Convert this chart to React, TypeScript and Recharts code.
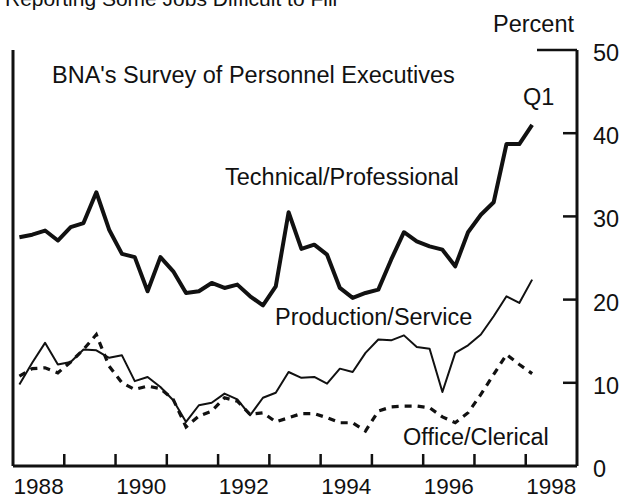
import React from 'react';
import { LineChart, Line, XAxis, YAxis } from 'recharts';

const FONT = "'Liberation Sans', Arial, Helvetica, sans-serif";
const INK = '#111111';

// Quarterly observations, 1988 Q1 through 1998 Q1
const years = [1988, 1989, 1990, 1991, 1992, 1993, 1994, 1995, 1996, 1997, 1998];
const quartersPerYear = ['Q1', 'Q2', 'Q3', 'Q4'];

const technicalProfessional = [
  27.5, 27.8, 28.3, 27.1, 28.7, 29.2, 32.9, 28.4, 25.5, 25.1, 21.0,
  25.1, 23.4, 20.8, 21.0, 22.0, 21.4, 21.8, 20.4, 19.3, 21.6, 30.5,
  26.1, 26.6, 25.4, 21.4, 20.2, 20.8, 21.2, 24.8, 28.1, 27.0, 26.4,
  26.0, 24.0, 28.1, 30.2, 31.7, 38.7, 38.7, 41.0,
];
const productionService = [
  9.8, 12.4, 14.8, 12.2, 12.5, 14.0, 13.9, 13.0, 13.3, 10.2, 10.7,
  9.5, 7.9, 5.3, 7.3, 7.6, 8.7, 8.0, 6.1, 8.2, 8.8, 11.3,
  10.6, 10.7, 9.9, 11.7, 11.3, 13.6, 15.2, 15.1, 15.7, 14.3, 14.1,
  8.9, 13.6, 14.5, 15.8, 18.0, 20.4, 19.6, 22.4,
];
const officeClerical = [
  10.8, 11.7, 11.8, 11.2, 12.5, 14.0, 15.8, 12.0, 10.0, 9.2, 9.6,
  9.3, 8.0, 4.7, 6.0, 6.6, 8.2, 7.8, 6.2, 6.4, 5.3, 5.8,
  6.3, 6.3, 5.8, 5.2, 5.2, 4.2, 6.6, 7.1, 7.2, 7.2, 7.0,
  5.9, 5.2, 6.4, 8.6, 11.0, 13.4, 12.2, 11.1,
];

const yearLabels = ['1988', '1990', '1992', '1994', '1996', '1998'];
const yTicks = [0, 10, 20, 30, 40, 50];

// build quarter categories -> numeric position (mid-quarter)
const quarterKeys: { year: number; q: number }[] = [];
years.forEach((yr) => quartersPerYear.forEach((_, qi) => quarterKeys.push({ year: yr, q: qi })));

const data = technicalProfessional.map((v, i) => ({
  x: quarterKeys[i].year + (quarterKeys[i].q + 0.5) / 4,
  tech: v,
  prod: productionService[i],
  office: officeClerical[i],
}));

const boundaryTicks = years.slice(1);
const labelTicks = yearLabels.map((l) => Number(l) + 0.5);
const xTicks = [...boundaryTicks, ...labelTicks].sort((a, b) => a - b);

const XTick = (props: any) => {
  const { x, y, payload } = props;
  const v = payload.value as number;
  if (Number.isInteger(v)) {
    return <line x1={x} x2={x} y1={y} y2={y - 12} stroke={INK} strokeWidth={2.5} />;
  }
  return (
    <text x={x} y={y + 28} textAnchor="middle" fontFamily={FONT} fontSize={22.5} fill={INK}>
      {String(Math.floor(v))}
    </text>
  );
};

const RightTick = (props: any) => {
  const { x, y, payload } = props;
  const v = payload.value as number;
  const len = v === 50 ? 40 : v === 0 ? 0 : 14;
  return (
    <g>
      {len > 0 && <line x1={x} x2={x - len} y1={y} y2={y} stroke={INK} strokeWidth={2.5} />}
      <text x={x + 16} y={y + 11} fontFamily={FONT} fontSize={23.5} fill={INK}>
        {String(v)}
      </text>
    </g>
  );
};

const LeftTick = (props: any) => {
  const { x, y, payload } = props;
  const v = payload.value as number;
  const len = v === 50 ? 27 : v === 0 ? 0 : 14;
  if (len === 0) return <g />;
  return <line x1={x} x2={x + len} y1={y} y2={y} stroke={INK} strokeWidth={2.5} />;
};

const textStyle = { fontFamily: FONT, fontSize: 23.5, fill: INK } as const;

export default function App() {
  return (
    <div style={{ position: 'absolute', left: 0, top: 0, width: 622, height: 500, background: '#fff' }}>
      <LineChart width={622} height={500} data={data} margin={{ top: 50, right: 0, bottom: 0, left: 0 }}>
        <XAxis
          dataKey="x"
          type="number"
          domain={[1988, 1999]}
          ticks={xTicks}
          interval={0}
          tick={<XTick />}
          tickLine={false}
          tickSize={0}
          tickMargin={0}
          height={34}
          axisLine={{ stroke: INK, strokeWidth: 3 }}
          allowDataOverflow
        />
        <YAxis
          yAxisId="l"
          orientation="left"
          domain={[0, 50]}
          ticks={yTicks}
          interval={0}
          width={13}
          tick={<LeftTick />}
          tickLine={false}
          tickSize={0}
          tickMargin={0}
          axisLine={{ stroke: INK, strokeWidth: 3 }}
        />
        <YAxis
          yAxisId="r"
          orientation="right"
          domain={[0, 50]}
          ticks={yTicks}
          interval={0}
          width={45}
          tick={<RightTick />}
          tickLine={false}
          tickSize={0}
          tickMargin={0}
          axisLine={{ stroke: INK, strokeWidth: 3 }}
        />
        <Line yAxisId="r" type="linear" dataKey="tech" stroke={INK} strokeWidth={4} dot={false} strokeLinejoin="round" isAnimationActive={false} />
        <Line yAxisId="r" type="linear" dataKey="prod" stroke={INK} strokeWidth={2} dot={false} strokeLinejoin="round" isAnimationActive={false} />
        <Line yAxisId="r" type="linear" dataKey="office" stroke={INK} strokeWidth={3.2} strokeDasharray="7 6" dot={false} isAnimationActive={false} />
      </LineChart>
      <svg width={622} height={500} style={{ position: 'absolute', left: 0, top: 0, pointerEvents: 'none' }}>
        <text x={5} y={6} fontFamily={FONT} fontSize={21} fill={INK}>Reporting Some Jobs Difficult to Fill</text>
        <text x={493} y={32} {...textStyle}>Percent</text>
        <text x={52} y={83} {...textStyle}>BNA's Survey of Personnel Executives</text>
        <text x={523} y={105} {...textStyle}>Q1</text>
        <text x={225} y={185} {...textStyle}>Technical/Professional</text>
        <text x={275} y={325} {...textStyle}>Production/Service</text>
        <text x={403} y={445} {...textStyle}>Office/Clerical</text>
      </svg>
    </div>
  );
}
